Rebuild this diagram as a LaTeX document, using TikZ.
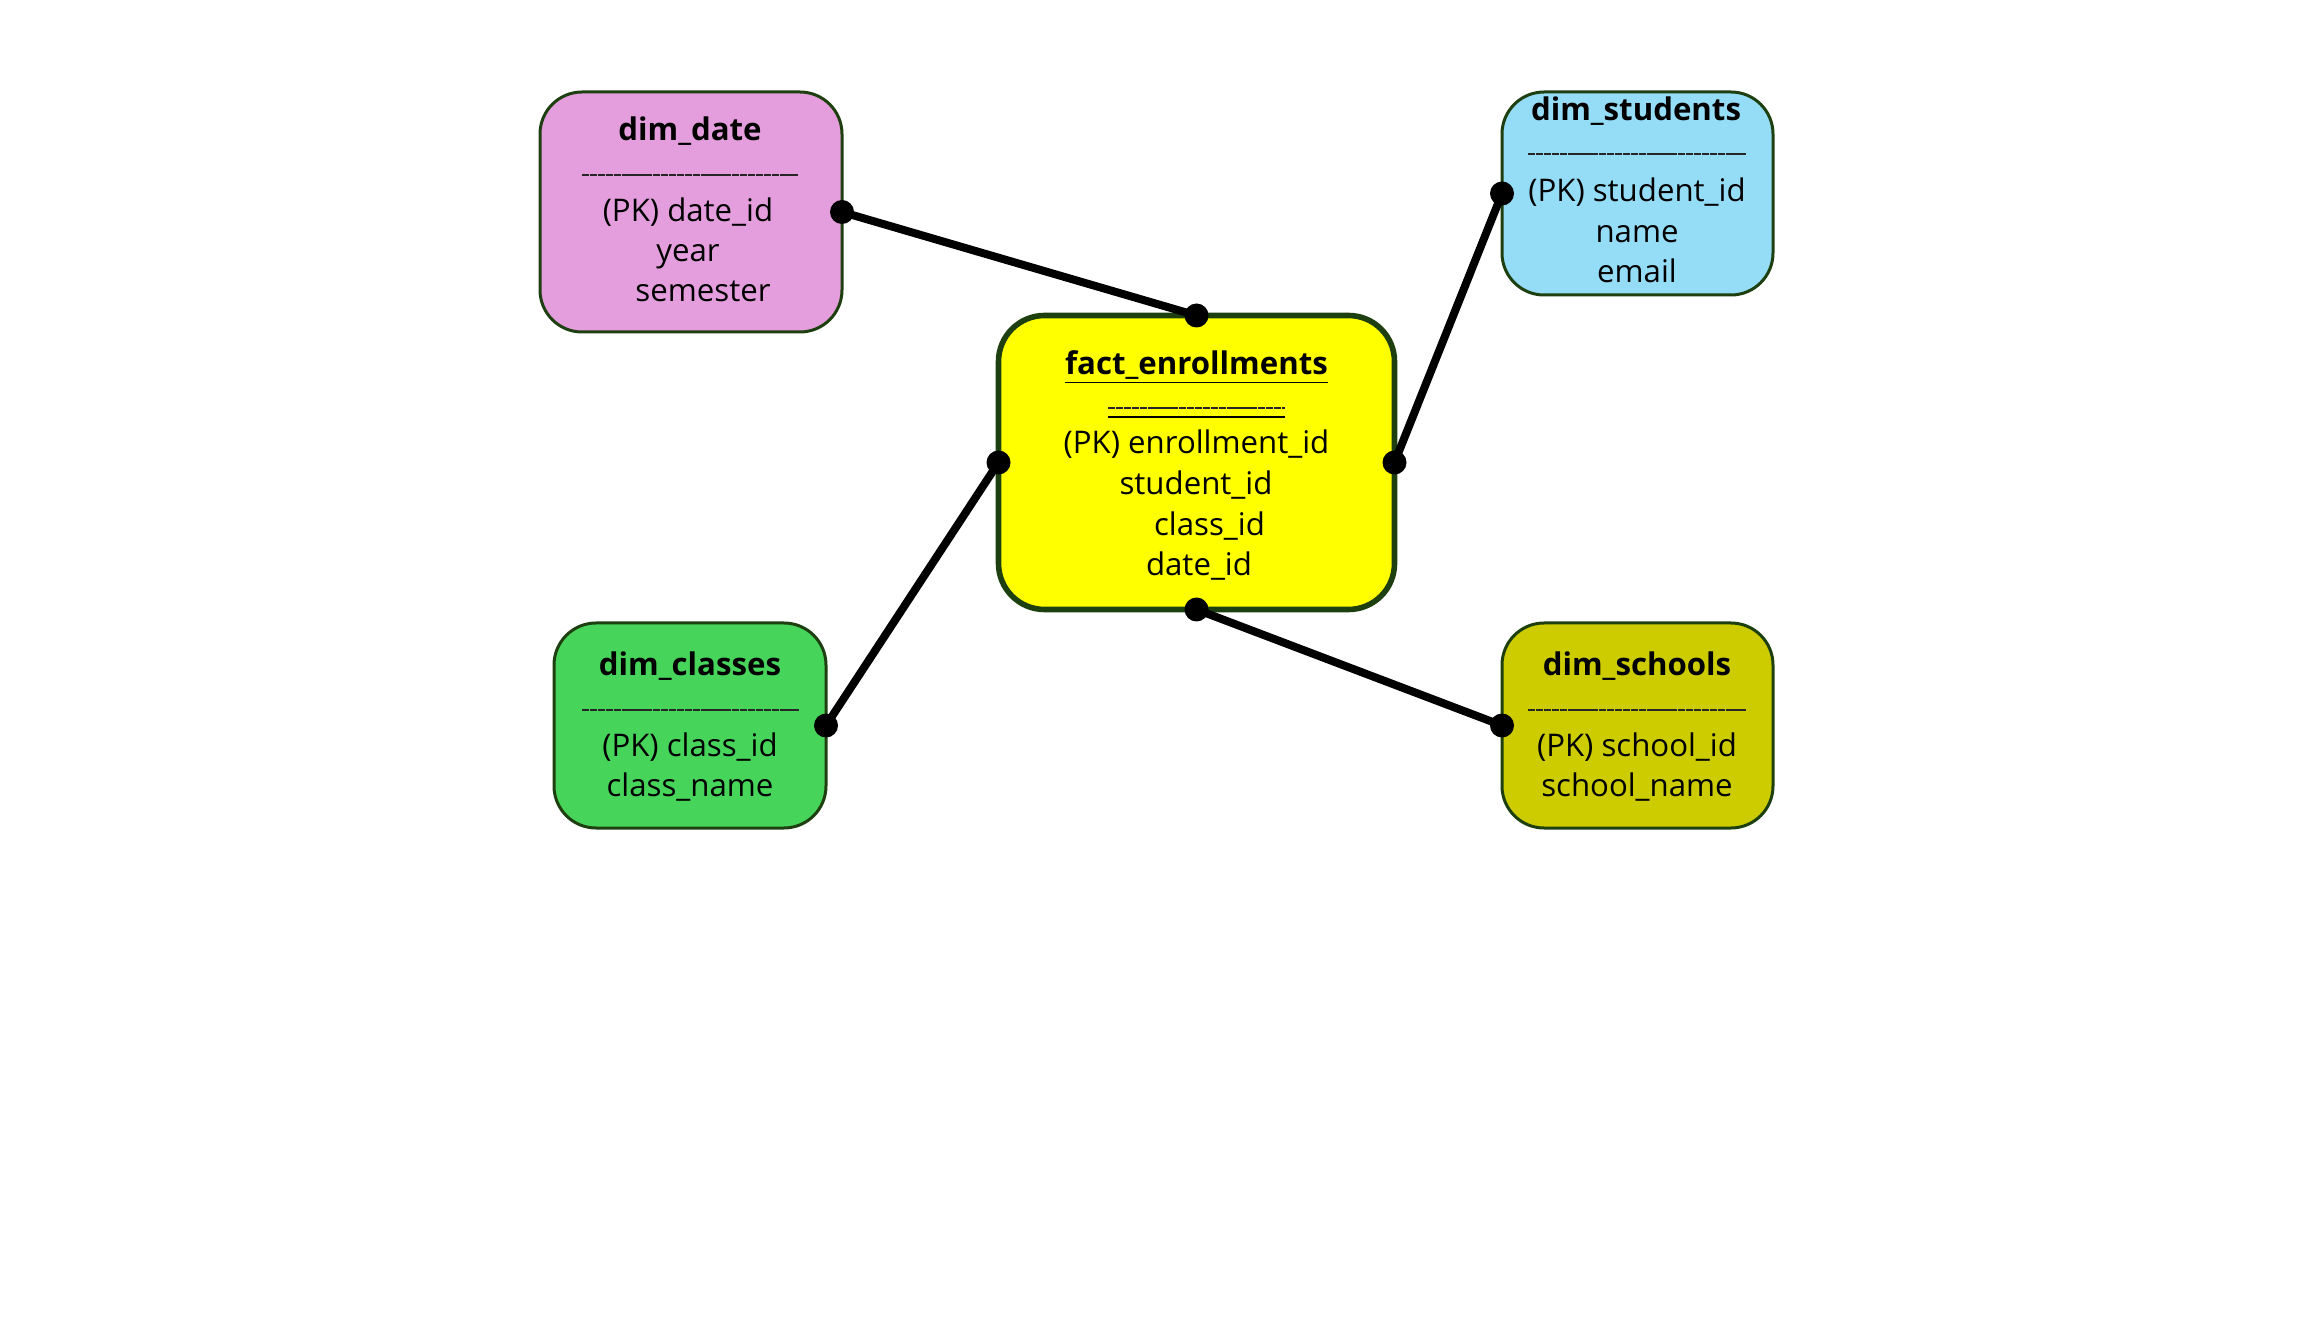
\documentclass[tikz,border=0pt]{standalone}
\usepackage{fontspec}
\setmainfont{Open Sans}
\definecolor{bordergreen}{HTML}{1E3F10}
\definecolor{datefill}{HTML}{E49EDD}
\definecolor{studfill}{HTML}{95DCF7}
\definecolor{classfill}{HTML}{47D45A}
\definecolor{schoolfill}{HTML}{CCCC00}
\definecolor{factfill}{HTML}{FFFF00}
\tikzset{
  entity/.style={draw=bordergreen, line width=1.5pt, rounded corners=21pt, inner sep=0pt, outer sep=0pt},
  factbox/.style={draw=bordergreen, line width=2.8pt, rounded corners=23pt, inner sep=0pt, outer sep=0pt, fill=factfill},
  ttl/.style={font=\fontsize{15.6}{17}\selectfont\bfseries, inner sep=0pt, text height=0.75em, text depth=0.22em},
  attr/.style={font=\fontsize{15.6}{17}\selectfont, inner sep=0pt, text height=0.75em, text depth=0.22em},
  sep/.style={line width=0.55pt, black!85, dash pattern=on 3.6pt off 0.35pt},
  conn/.style={line width=4pt, black},
  enddot/.style={circle, fill=black, inner sep=0pt, minimum size=12pt}
}
\begin{document}
\begin{tikzpicture}[x=0.5pt, y=-0.5pt]
\useasboundingbox (0,0) rectangle (2304,1326);
% boxes
\node[factbox, minimum width=198pt, minimum height=147pt] (fact) at (1196.5,462.5) {};
\node[entity, fill=datefill, minimum width=151pt, minimum height=120pt] (date) at (691,212) {};
\node[entity, fill=studfill, minimum width=135.5pt, minimum height=101.5pt] (stud) at (1637.5,193.5) {};
\node[entity, fill=classfill, minimum width=136pt, minimum height=102.5pt] (class) at (690,725.5) {};
\node[entity, fill=schoolfill, minimum width=135.5pt, minimum height=102.5pt] (school) at (1637.5,725.5) {};
% fact texts
\node[ttl] (fact-t) at (1196.5,369) {\underline{fact\_enrollments}};
\draw[sep] (1108,408) coordinate (fs1) -- (1285,408) coordinate (fs2);
\draw[line width=0.6pt] (1108,417) coordinate (fu1) -- (1285,417) coordinate (fu2);
\node[attr] (fact-a1) at (1196.5,448) {(PK) enrollment\_id};
\node[attr] (fact-a2) at (1196,489) {student\_id};
\node[attr] (fact-a3) at (1209.5,530) {class\_id};
\node[attr] (fact-a4) at (1199,570) {date\_id};
% date texts
\node[ttl] (date-t) at (690,135) {dim\_date};
\draw[sep] (582,175) coordinate (ds1) -- (798,175) coordinate (ds2);
\node[attr] (date-a1) at (688,216) {(PK) date\_id};
\node[attr] (date-a2) at (688,256) {year};
\node[attr] (date-a3) at (703,296) {semester};
% students texts
\node[ttl] (stud-t) at (1636,115) {dim\_students};
\draw[sep] (1528,154) coordinate (ss1) -- (1746,154) coordinate (ss2);
\node[attr] (stud-a1) at (1637,196) {(PK) student\_id};
\node[attr] (stud-a2) at (1637,237) {name};
\node[attr] (stud-a3) at (1637,277) {email};
% classes texts
\node[ttl] (class-t) at (690,670) {dim\_classes};
\draw[sep] (582,710) coordinate (cs1) -- (799,710) coordinate (cs2);
\node[attr] (class-a1) at (690,751) {(PK) class\_id};
\node[attr] (class-a2) at (690,791) {class\_name};
% schools texts
\node[ttl] (school-t) at (1637,670) {dim\_schools};
\draw[sep] (1528,710) coordinate (hs1) -- (1746,710) coordinate (hs2);
\node[attr] (school-a1) at (1637,751) {(PK) school\_id};
\node[attr] (school-a2) at (1637,791) {school\_name};
% connectors
\draw[conn] (date.east) -- (fact.north);
\draw[conn] (stud.west) -- (fact.east);
\draw[conn] (class.east) -- (fact.west);
\draw[conn] (school.west) -- (fact.south);
% end dots
\node[enddot] (d1) at (date.east) {};
\node[enddot] (d2) at (fact.north) {};
\node[enddot] (d3) at (stud.west) {};
\node[enddot] (d4) at (fact.east) {};
\node[enddot] (d5) at (class.east) {};
\node[enddot] (d6) at (fact.west) {};
\node[enddot] (d7) at (school.west) {};
\node[enddot] (d8) at (fact.south) {};
\end{tikzpicture}
\end{document}
